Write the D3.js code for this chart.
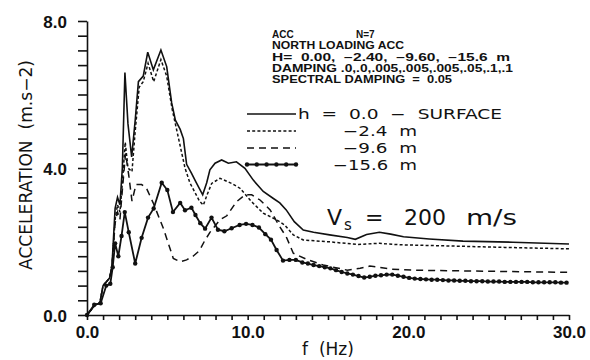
<!DOCTYPE html>
<html>
<head>
<meta charset="utf-8">
<script src="https://cdn.jsdelivr.net/npm/d3@7"></script>
<style>
  html, body { margin: 0; padding: 0; background: #fff; }
  svg text { fill: #111; white-space: pre; }
</style>
</head>
<body>
<div id="chart"></div>
<script>
// frequency (Hz) / acceleration (m.s-2) pairs

const surfaceF = [0, 0.5, 0.8, 1.0, 1.4, 1.55, 1.75, 1.9, 2.05, 2.2, 2.36, 2.55, 2.78, 3.0, 3.2, 3.5, 3.78, 4.13, 4.6, 4.96, 5.27, 5.5, 5.8, 6.0, 6.2, 6.5, 6.8, 7.2, 7.45, 7.65, 7.97, 8.38, 8.8, 9.3, 9.83, 10.35, 10.97, 11.6, 12.0, 12.4, 12.9, 13.46, 14.1, 15.1, 16.2, 16.7, 17.4, 18.2, 18.9, 19.7, 21.3, 23.4, 26.5, 30];
const surfaceA = [0, 0.27, 0.33, 0.8, 1.0, 1.3, 2.9, 3.2, 3.0, 4.0, 6.6, 5.2, 4.3, 5.3, 6.35, 6.5, 7.15, 6.67, 7.21, 6.76, 5.77, 5.3, 5.05, 4.8, 4.1, 3.86, 3.6, 3.27, 3.6, 3.95, 4.13, 4.22, 4.13, 4.17, 3.99, 3.67, 3.36, 3.17, 3.05, 2.86, 2.54, 2.31, 2.25, 2.18, 2.11, 2.06, 2.19, 2.25, 2.2, 2.13, 2.07, 2.01, 1.98, 1.93];

const m24F = [0, 0.5, 0.8, 1.0, 1.4, 1.55, 1.75, 1.9, 2.05, 2.2, 2.38, 2.55, 2.8, 3.0, 3.25, 3.5, 3.8, 4.15, 4.6, 4.96, 5.3, 5.55, 5.8, 6.1, 6.4, 6.7, 7.0, 7.24, 7.5, 7.76, 8.28, 9.0, 9.52, 10.25, 10.97, 11.8, 12.3, 12.84, 13.46, 15.1, 16.8, 18.2, 19.5, 22.4, 26, 30];
const m24A = [0, 0.27, 0.33, 0.8, 1.0, 1.3, 2.6, 3.0, 2.8, 3.6, 4.7, 4.0, 3.9, 5.0, 6.2, 6.35, 6.85, 6.35, 6.95, 6.5, 5.6, 5.1, 4.6, 4.0, 3.6, 3.35, 3.1, 2.99, 3.3, 3.58, 3.72, 3.58, 3.45, 3.08, 2.77, 2.59, 2.45, 2.18, 2.04, 1.99, 1.92, 1.95, 1.91, 1.88, 1.84, 1.8];

const m96F = [0, 0.5, 0.8, 1.0, 1.4, 1.55, 1.75, 1.9, 2.05, 2.2, 2.4, 2.6, 2.8, 3.05, 3.4, 3.7, 4.13, 4.75, 5.37, 5.8, 6.2, 6.6, 7.0, 7.3, 7.65, 8.28, 8.7, 9.3, 9.83, 10.25, 10.77, 11.4, 12.0, 12.4, 12.84, 13.7, 14.7, 16.2, 17.0, 17.6, 18.0, 18.9, 20.3, 25, 30];
const m96A = [0, 0.27, 0.33, 0.8, 1.0, 1.3, 2.5, 2.8, 2.6, 3.4, 4.4, 3.8, 3.1, 3.55, 3.55, 3.45, 3.04, 2.36, 1.54, 1.45, 1.5, 1.6, 1.75, 2.0, 2.25, 2.59, 2.7, 3.08, 3.27, 3.27, 3.13, 2.86, 2.4, 2.13, 1.68, 1.51, 1.36, 1.22, 1.27, 1.33, 1.31, 1.25, 1.22, 1.19, 1.16];

const m156F = [0, 0.45, 0.85, 1.2, 1.45, 1.6, 1.75, 1.95, 2.15, 2.35, 2.6, 3.0, 3.4, 3.8, 4.15, 4.65, 5.0, 5.35, 5.8, 6.1, 6.5, 6.75, 7.05, 7.35, 7.75, 8.15, 8.55, 9.0, 9.5, 9.9, 10.3, 10.7, 11.1, 11.45, 11.8, 12.2, 12.6, 13.0, 13.4, 13.75, 14.1, 14.45, 14.8, 15.15, 15.5, 15.85, 16.2, 16.55, 16.9, 17.25, 17.6, 17.95, 18.3, 18.65, 19.0, 19.35, 19.7, 20.05, 20.4, 20.75, 21.1, 21.45, 21.8, 22.15, 22.5, 22.85, 23.2, 23.55, 23.9, 24.25, 24.6, 24.95, 25.3, 25.65, 26.0, 26.35, 26.7, 27.05, 27.4, 27.75, 28.1, 28.45, 28.8, 29.15, 29.5, 29.85];
const m156A = [0, 0.28, 0.32, 0.8, 0.85, 1.3, 1.95, 1.6, 2.15, 2.8, 2.25, 1.4, 2.1, 2.65, 2.9, 3.6, 3.4, 2.8, 3.05, 2.85, 2.92, 2.72, 2.5, 2.35, 2.65, 2.32, 2.28, 2.36, 2.45, 2.48, 2.45, 2.38, 2.2, 2.05, 1.77, 1.48, 1.5, 1.5, 1.43, 1.4, 1.36, 1.33, 1.3, 1.27, 1.22, 1.17, 1.13, 1.1, 1.06, 1.02, 1.04, 1.07, 1.08, 1.1, 1.1, 1.07, 1.04, 1.01, 0.99, 0.98, 0.97, 0.96, 0.96, 0.95, 0.94, 0.94, 0.93, 0.93, 0.92, 0.92, 0.92, 0.91, 0.91, 0.91, 0.9, 0.9, 0.9, 0.9, 0.9, 0.89, 0.89, 0.89, 0.89, 0.89, 0.88, 0.88];

const xTickLabels = [0, 10, 20, 30];
const yTickLabels = [0, 4, 8];

const infoLines = [
  "NORTH LOADING ACC",
  "H=  0.00,  \u22122.40,  \u22129.60,  \u221215.6  m",
  "DAMPING .0,.0,.005,.005,.005,.05,.1,.1",
  "SPECTRAL DAMPING  =  0.05"
];
const infoWidths = [132, 238, 241, 180];
const legendLabels = ["h  =  0.0  \u2212  SURFACE", "\u22122.4  m", "\u22129.6  m", "\u221215.6  m"];
const legendWidths = [204, 74, 74, 84];

const W = 590, H = 360;
const x = d3.scaleLinear().domain([0, 30]).range([87, 569]);
const y = d3.scaleLinear().domain([0, 8]).range([315, 21]);

const svg = d3.select("#chart").append("svg")
  .attr("width", W).attr("height", H)
  .style("font-family", "'DejaVu Sans', sans-serif");

const ink = "#111";

// axes
const yAxis = d3.axisLeft(y)
  .tickValues(d3.range(0, 8.001, 0.4))
  .tickSize(9).tickSizeOuter(0)
  .tickFormat(d => yTickLabels.some(v => Math.abs(v - d) < 1e-6) ? d3.format(".1f")(d) : "");
const gy = svg.append("g").attr("transform", "translate(87,0)").call(yAxis);
gy.selectAll("path, line").attr("stroke", ink).attr("stroke-width", 1.6);
gy.selectAll("text").attr("font-size", 17).attr("font-weight", "bold").attr("x", -20).attr("dy", "0.36em").attr("fill", ink);

const xAxis = d3.axisBottom(x)
  .tickValues(d3.range(0, 30.001, 1))
  .tickSize(5).tickSizeOuter(0)
  .tickFormat(d => xTickLabels.includes(Math.round(d)) && Math.abs(d - Math.round(d)) < 1e-6 ? d3.format(".1f")(d) : "");
const gx = svg.append("g").attr("transform", "translate(0,315)").call(xAxis);
gx.selectAll("path, line").attr("stroke", ink).attr("stroke-width", 1.6);
gx.selectAll("text").attr("font-size", 17).attr("font-weight", "bold").attr("y", 11).attr("dy", "0.71em").attr("fill", ink);

svg.append("text")
  .attr("transform", "translate(32,165) rotate(-90)")
  .attr("text-anchor", "middle")
  .attr("font-size", 17)
  .attr("textLength", 210).attr("lengthAdjust", "spacingAndGlyphs")
  .text("ACCELERATION  (m.s\u22122)");

svg.append("text")
  .attr("x", 328).attr("y", 355)
  .attr("text-anchor", "middle")
  .attr("font-size", 17)
  .text("f  (Hz)");

// series
const line = d3.line().x(d => x(d[0])).y(d => y(d[1]));
const series = [
  { f: surfaceF, a: surfaceA, dash: null, w: 1.6 },
  { f: m24F, a: m24A, dash: "3,2.2", w: 1.5 },
  { f: m96F, a: m96A, dash: "7,5", w: 1.5 },
  { f: m156F, a: m156A, dash: null, w: 1.8, dots: true }
];

series.forEach(s => {
  const pts = s.f.map((f, i) => [f, s.a[i]]);
  svg.append("path").datum(pts)
    .attr("d", line)
    .attr("fill", "none")
    .attr("stroke", ink)
    .attr("stroke-width", s.w)
    .attr("stroke-dasharray", s.dash);
  if (s.dots) {
    svg.append("g").selectAll("circle").data(pts).join("circle")
      .attr("cx", d => x(d[0])).attr("cy", d => y(d[1]))
      .attr("r", 2.2).attr("fill", ink);
  }
});

// info block
const info = svg.append("g").attr("font-size", 10).attr("font-weight", "bold")
  .style("font-family", "'Liberation Sans', sans-serif");
info.append("text").attr("x", 272).attr("y", 38).text("ACC");
info.append("text").attr("x", 356).attr("y", 38).text("N=7");
infoLines.forEach((l, i) => {
  info.append("text").attr("x", 272).attr("y", 49.3 + i * 11.3)
    .attr("textLength", infoWidths[i]).attr("lengthAdjust", "spacingAndGlyphs")
    .text(l);
});

// legend
const legendY = [114, 131, 148, 164.5];
series.forEach((s, i) => {
  svg.append("line")
    .attr("x1", 247).attr("x2", 296)
    .attr("y1", legendY[i]).attr("y2", legendY[i])
    .attr("stroke", ink).attr("stroke-width", s.w)
    .attr("stroke-dasharray", s.dash);
  if (s.dots) {
    svg.append("g").selectAll("circle").data(d3.range(247, 297, 9.8)).join("circle")
      .attr("cx", d => d).attr("cy", legendY[i]).attr("r", 2.2).attr("fill", ink);
  }
});
const legX = [298, 343, 343, 333];
legendLabels.forEach((t, i) => {
  svg.append("text").attr("x", legX[i]).attr("y", legendY[i] + 5)
    .attr("font-size", 14)
    .attr("textLength", legendWidths[i]).attr("lengthAdjust", "spacingAndGlyphs")
    .text(t);
});

// Vs annotation
const vs = svg.append("g").attr("font-size", 22);
vs.append("text").attr("x", 327).attr("y", 225).text("V");
vs.append("text").attr("x", 344).attr("y", 230).attr("font-size", 15).text("s");
vs.append("text").attr("x", 365).attr("y", 225).text("=");
vs.append("text").attr("x", 404).attr("y", 225).text("200");
vs.append("text").attr("x", 466).attr("y", 225)
  .attr("textLength", 51).attr("lengthAdjust", "spacingAndGlyphs").text("m/s");
</script>
</body>
</html>
